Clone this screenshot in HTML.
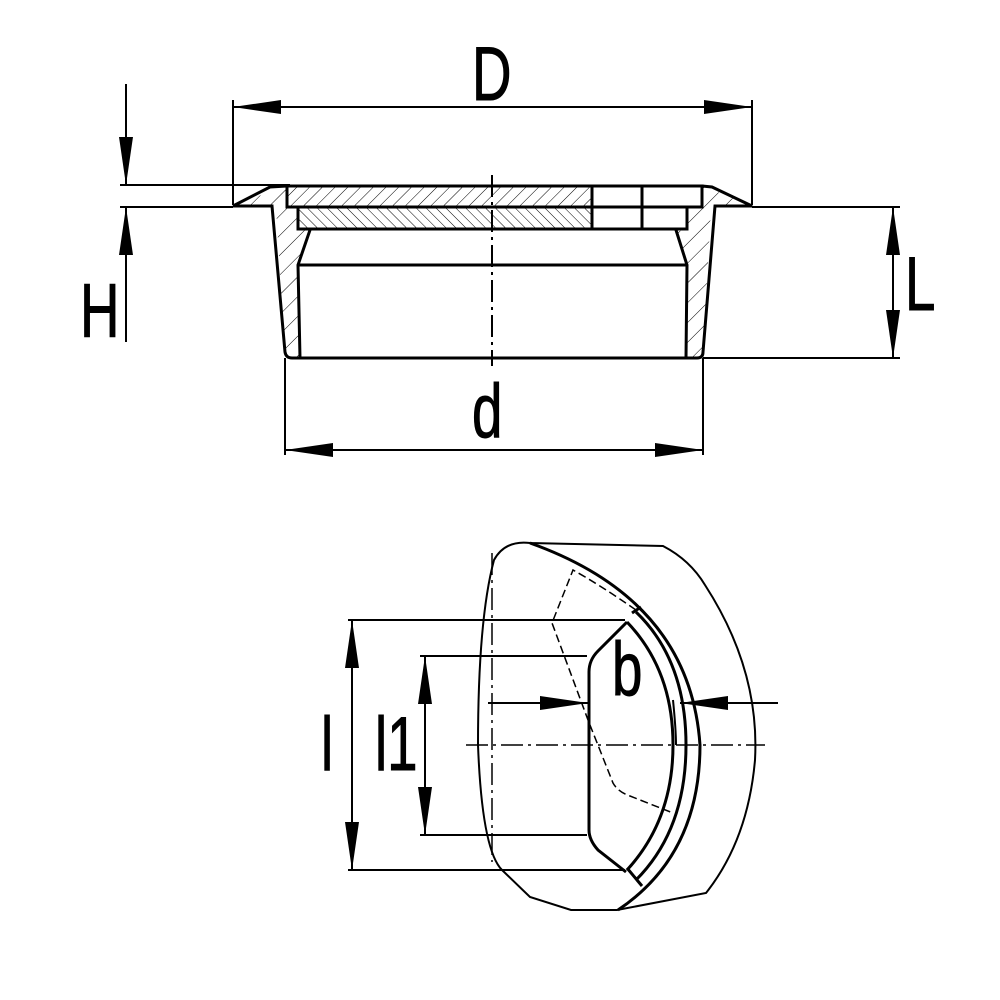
<!DOCTYPE html>
<html><head><style>html,body{margin:0;padding:0;background:#fff}svg{display:block}text{font-family:"Liberation Sans",sans-serif;fill:#000}</style></head>
<body>
<svg width="1000" height="1000" viewBox="0 0 1000 1000" xmlns="http://www.w3.org/2000/svg">
<defs>
<pattern id="h1" width="9" height="9" patternUnits="userSpaceOnUse" patternTransform="rotate(45)"><line x1="0" y1="0" x2="0" y2="9" stroke="#000" stroke-width="1"/></pattern>
<pattern id="h2" width="7" height="7" patternUnits="userSpaceOnUse" patternTransform="rotate(-45)"><line x1="0" y1="0" x2="0" y2="7" stroke="#000" stroke-width="1"/></pattern>
<pattern id="h3" width="14" height="14" patternUnits="userSpaceOnUse" patternTransform="rotate(45)"><line x1="0" y1="0" x2="0" y2="14" stroke="#000" stroke-width="1"/></pattern>
<marker id="a" viewBox="0 0 48 14" refX="48" refY="7" markerWidth="48" markerHeight="14" markerUnits="userSpaceOnUse" orient="auto"><path d="M0,0L48,7L0,14z" fill="#000"/></marker>
</defs>
<g fill="none" stroke="#000">
<path d="M272,207 L287,207 L287,186 L233,205 Z" fill="url(#h3)" stroke="none"/>
<path d="M702,186 L702,207 L715,207 L752,205 Z" fill="url(#h3)" stroke="none"/>
<path d="M276,207 L298,207 L298,229 L310,232 L298,265 L300,358 L285,358 Z" fill="url(#h3)" stroke="none"/>
<path d="M687,207 L711,207 L703,358 L687,358 L687,265 L676,232 L687,229 Z" fill="url(#h3)" stroke="none"/>
<rect x="287" y="186" width="305" height="21" fill="url(#h1)" stroke="none"/>
<rect x="298" y="207" width="294" height="22" fill="url(#h2)" stroke="none"/>
<g stroke-width="3">
<path d="M233,206 L270,187 L287,186"/>
<path d="M233,206 L272,206 L285,352 Q286,358 292,358 L697,358 Q703,358 703,352 L715,206 L752,206 L712,187 L702,186"/>
<rect x="287" y="186" width="415" height="21"/>
<rect x="298" y="207" width="389" height="22"/>
<line x1="592" y1="186" x2="592" y2="229"/>
<line x1="642" y1="186" x2="642" y2="229"/>
<path d="M310,230 L298,265 L300,358"/>
<path d="M676,230 L687,265 L686,358"/>
<line x1="298" y1="265" x2="687" y2="265"/>
</g>
<line x1="492" y1="175" x2="492" y2="366" stroke-width="2" stroke-dasharray="22,5,3,5"/>
<g stroke-width="2">
<line x1="233" y1="100" x2="233" y2="205"/><line x1="752" y1="100" x2="752" y2="205"/>
<line x1="492" y1="107" x2="233" y2="107" marker-end="url(#a)"/>
<line x1="492" y1="107" x2="752" y2="107" marker-end="url(#a)"/>
<line x1="120" y1="185" x2="290" y2="185"/><line x1="120" y1="207" x2="233" y2="207"/>
<line x1="126" y1="84" x2="126" y2="185" marker-end="url(#a)"/>
<line x1="126" y1="342" x2="126" y2="207" marker-end="url(#a)"/>
<line x1="752" y1="207" x2="900" y2="207"/><line x1="703" y1="358" x2="900" y2="358"/>
<line x1="893" y1="283" x2="893" y2="207" marker-end="url(#a)"/>
<line x1="893" y1="283" x2="893" y2="358" marker-end="url(#a)"/>
<line x1="285" y1="358" x2="285" y2="455"/><line x1="703" y1="358" x2="703" y2="455"/>
<line x1="490" y1="450" x2="285" y2="450" marker-end="url(#a)"/>
<line x1="490" y1="450" x2="703" y2="450" marker-end="url(#a)"/>
</g>
<g stroke-width="2">
<path d="M530,543 Q505,540 494,560 Q478,620 478,745 Q482,850 502,870 L530,897 L571,910 L617,910 L706,893 Q748,840 755,760 Q760,670 705,585 Q690,560 663,546 Z"/>
</g>
<g stroke-width="3">
<path d="M530,543 Q690,600 700,745 Q700,855 618,910"/>
<path d="M636,612 Q686,660 686,745 Q686,830 636,880"/>
<path d="M627,622 Q673,670 673,745 Q673,820 627,870"/>
<line x1="632" y1="613" x2="641" y2="607"/>
<line x1="627" y1="868" x2="642" y2="886"/>
<path d="M627,622 L598,651 Q589,660 589,672 L589,830 Q589,840 598,850 L626,872"/>
</g>
<path d="M673,700 Q676,730 676,745" stroke-width="2"/>
<path d="M636,610 Q600,585 573,570 L552,623 L588,720 L613,783 Q618,792 630,796 L673,813" stroke-width="1.5" stroke-dasharray="8,4"/>
<line x1="492" y1="553" x2="492" y2="862" stroke-width="1.5" stroke-dasharray="22,5,3,5"/>
<line x1="466" y1="745" x2="765" y2="745" stroke-width="1.5" stroke-dasharray="22,5,3,5"/>
<g stroke-width="2">
<line x1="348" y1="620" x2="625" y2="620"/><line x1="348" y1="870" x2="625" y2="870"/>
<line x1="352" y1="745" x2="352" y2="620" marker-end="url(#a)"/>
<line x1="352" y1="745" x2="352" y2="870" marker-end="url(#a)"/>
<line x1="420" y1="656" x2="587" y2="656"/><line x1="420" y1="835" x2="587" y2="835"/>
<line x1="425" y1="745" x2="425" y2="656" marker-end="url(#a)"/>
<line x1="425" y1="745" x2="425" y2="835" marker-end="url(#a)"/>
<line x1="488" y1="703" x2="588" y2="703" marker-end="url(#a)"/>
<line x1="778" y1="703" x2="680" y2="703" marker-end="url(#a)"/>
</g>
</g>
<g font-size="76" stroke="#000" stroke-width="1">
<text transform="translate(472,100) scale(0.72,1)">D</text>
<text transform="translate(80,337) scale(0.72,1)">H</text>
<text transform="translate(905,310) scale(0.72,1)">L</text>
<text transform="translate(472,437) scale(0.72,1)">d</text>
<text transform="translate(612,695) scale(0.72,1)">b</text>
<text transform="translate(321,770) scale(0.72,1)">l</text>
<text transform="translate(375,770) scale(0.72,1)">l1</text>
</g>
</svg>
</body></html>
